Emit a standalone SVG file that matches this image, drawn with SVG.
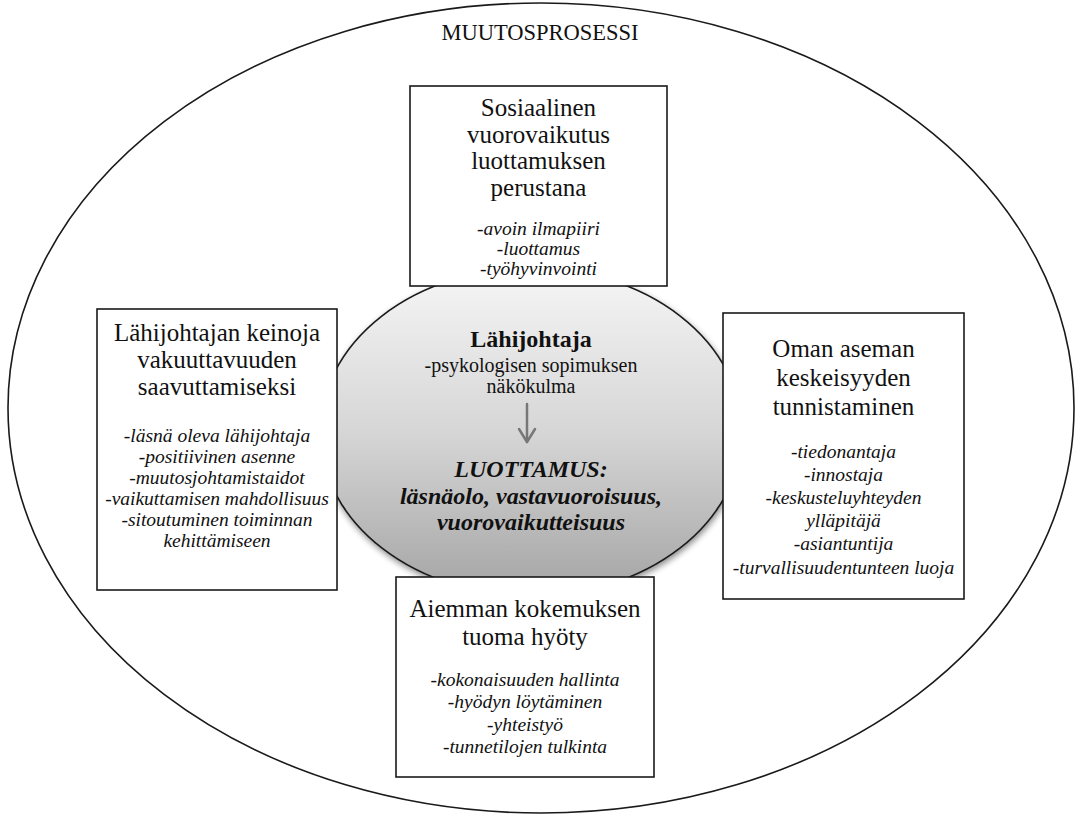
<svg xmlns="http://www.w3.org/2000/svg" width="1083" height="816" viewBox="0 0 1083 816">
<defs>
<linearGradient id="g" x1="0" y1="0" x2="0" y2="1">
<stop offset="0" stop-color="#f6f6f6"/>
<stop offset="0.5" stop-color="#d6d6d6"/>
<stop offset="1" stop-color="#a4a4a4"/>
</linearGradient>
<filter id="sh" x="-10%" y="-10%" width="120%" height="125%">
<feGaussianBlur in="SourceAlpha" stdDeviation="3"/>
<feOffset dx="1" dy="3" result="b"/>
<feComponentTransfer><feFuncA type="linear" slope="0.45"/></feComponentTransfer>
<feMerge><feMergeNode/><feMergeNode in="SourceGraphic"/></feMerge>
</filter>
</defs>
<style>
.t{font-family:"Liberation Serif","Times New Roman",serif;fill:#111;text-anchor:middle}
.h{font-size:25px}
.i{font-size:19.5px;font-style:italic}
.box{fill:#fff;stroke:#1a1a1a;stroke-width:1.6}
</style>
<rect width="1083" height="816" fill="#fff"/>
<g id="outer">
<ellipse cx="541" cy="408" rx="533" ry="405" fill="#fff" stroke="#1a1a1a" stroke-width="1.6"/>
<text class="t" x="540" y="40" font-size="22.5">MUUTOSPROSESSI</text>
</g>
<g id="center">
<ellipse cx="531" cy="432" rx="211" ry="164" fill="url(#g)" stroke="#1a1a1a" stroke-width="1.6" filter="url(#sh)"/>
<text class="t" x="531" y="347" font-size="24" font-weight="bold">Lähijohtaja</text>
<text class="t" x="531" y="372" font-size="20">-psykologisen sopimuksen</text>
<text class="t" x="531" y="393" font-size="20">näkökulma</text>
<text class="t" x="531" y="477" font-size="24" font-weight="bold" font-style="italic">LUOTTAMUS:</text>
<text class="t" x="531" y="504" font-size="24" font-weight="bold" font-style="italic">läsnäolo, vastavuoroisuus,</text>
<text class="t" x="531" y="530" font-size="24" font-weight="bold" font-style="italic">vuorovaikutteisuus</text>
</g>
<g id="connectors" fill="none" stroke="#777" stroke-width="2.5" stroke-linecap="round" stroke-linejoin="round">
<path d="M527,404 V442"/>
<path d="M519,429 L527,442 L535,429"/>
</g>
<g id="top">
<rect class="box" x="410" y="86" width="257" height="200"/>
<text class="t h" x="538.5" y="116">Sosiaalinen</text>
<text class="t h" x="538.5" y="143">vuorovaikutus</text>
<text class="t h" x="538.5" y="169">luottamuksen</text>
<text class="t h" x="538.5" y="196">perustana</text>
<text class="t i" x="538.5" y="235">-avoin ilmapiiri</text>
<text class="t i" x="538.5" y="255">-luottamus</text>
<text class="t i" x="538.5" y="275">-työhyvinvointi</text>
</g>
<g id="left">
<rect class="box" x="97" y="309" width="240" height="281"/>
<text class="t h" x="217" y="341">Lähijohtajan keinoja</text>
<text class="t h" x="217" y="368">vakuuttavuuden</text>
<text class="t h" x="217" y="395">saavuttamiseksi</text>
<text class="t i" x="217" y="442">-läsnä oleva lähijohtaja</text>
<text class="t i" x="217" y="463">-positiivinen asenne</text>
<text class="t i" x="217" y="484">-muutosjohtamistaidot</text>
<text class="t i" x="217" y="505">-vaikuttamisen mahdollisuus</text>
<text class="t i" x="217" y="526">-sitoutuminen toiminnan</text>
<text class="t i" x="217" y="547">kehittämiseen</text>
</g>
<g id="right">
<rect class="box" x="723" y="313" width="241" height="286"/>
<text class="t h" x="843.5" y="357">Oman aseman</text>
<text class="t h" x="843.5" y="386">keskeisyyden</text>
<text class="t h" x="843.5" y="415">tunnistaminen</text>
<text class="t i" x="843.5" y="458">-tiedonantaja</text>
<text class="t i" x="843.5" y="481">-innostaja</text>
<text class="t i" x="843.5" y="504">-keskusteluyhteyden</text>
<text class="t i" x="843.5" y="527">ylläpitäjä</text>
<text class="t i" x="843.5" y="550">-asiantuntija</text>
<text class="t i" x="843.5" y="574">-turvallisuudentunteen luoja</text>
</g>
<g id="bottom">
<rect class="box" x="396" y="577" width="258" height="200"/>
<text class="t h" x="525" y="617">Aiemman kokemuksen</text>
<text class="t h" x="525" y="645">tuoma hyöty</text>
<text class="t i" x="525" y="686">-kokonaisuuden hallinta</text>
<text class="t i" x="525" y="708">-hyödyn löytäminen</text>
<text class="t i" x="525" y="731">-yhteistyö</text>
<text class="t i" x="525" y="753">-tunnetilojen tulkinta</text>
</g>
</svg>
